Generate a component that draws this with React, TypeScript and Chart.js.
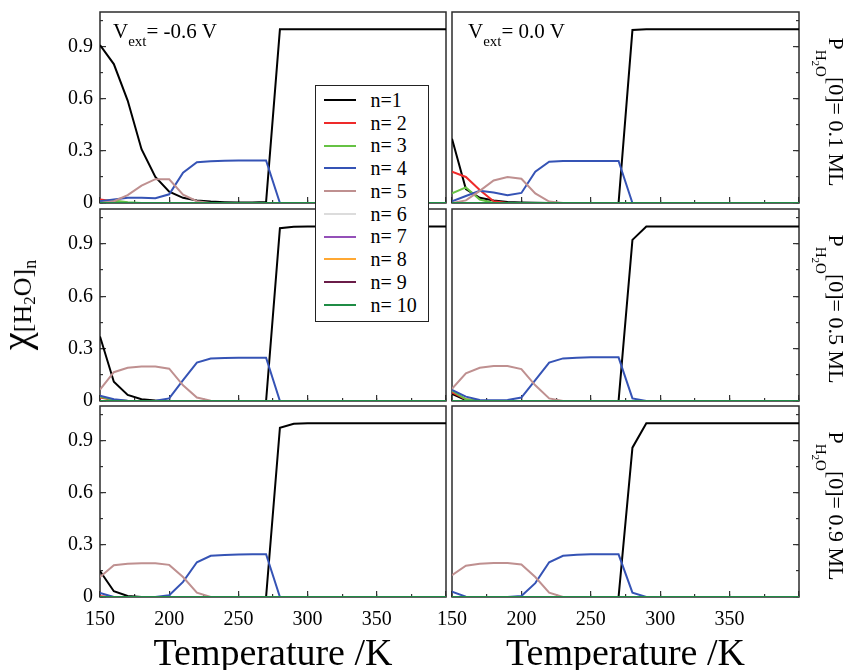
import React, { useEffect, useRef } from 'react';
import { Chart, registerables } from 'chart.js';

Chart.register(...registerables);

const W = 847;
const H = 670;
const FONT = '"Liberation Serif", "Times New Roman", "DejaVu Serif", serif';

// ---------- data ----------
const TEMPERATURES = [150, 160, 170, 180, 190, 200, 210, 220, 230, 240, 250, 260, 270, 280, 290, 300, 310, 320, 330, 340, 350, 360, 370, 380, 390, 400];
const SERIES_LABELS = ['n=1', 'n= 2', 'n= 3', 'n= 4', 'n= 5', 'n= 6', 'n= 7', 'n= 8', 'n= 9', 'n= 10'];
const SERIES_COLORS = ['#000000', '#ee2a2a', '#66c244', '#3553b5', '#bf9090', '#dcdcdc', '#9450b8', '#ffa833', '#6a1c48', '#1f8c45'];
const X_TICK_LABELS = [150, 200, 250, 300, 350];
const Y_TICK_LABELS = [0, 0.3, 0.6, 0.9];
const VEXT_LABELS = ['-0.6 V', '0.0 V'];
const PH2O_LABELS = ['0.1 ML', '0.5 ML', '0.9 ML'];

const ZERO = [0, 0, 0, 0, 0, 0, 0, 0, 0, 0, 0, 0, 0, 0, 0, 0, 0, 0, 0, 0, 0, 0, 0, 0, 0, 0];

// Vext = -0.6 V, P = 0.1 ML
const A_N1 = [0.91, 0.8, 0.59, 0.31, 0.15, 0.065, 0.03, 0.015, 0.008, 0.005, 0.003, 0.003, 0.006, 1.0, 1.0, 1.0, 1.0, 1.0, 1.0, 1.0, 1.0, 1.0, 1.0, 1.0, 1.0, 1.0];
const A_N2 = [0.02, 0.01, 0.002, 0, 0, 0, 0, 0, 0, 0, 0, 0, 0, 0, 0, 0, 0, 0, 0, 0, 0, 0, 0, 0, 0, 0];
const A_N3 = [0.01, 0.015, 0.005, 0, 0, 0, 0, 0, 0, 0, 0, 0, 0, 0, 0, 0, 0, 0, 0, 0, 0, 0, 0, 0, 0, 0];
const A_N4 = [0.01, 0.02, 0.03, 0.03, 0.028, 0.05, 0.175, 0.235, 0.24, 0.243, 0.245, 0.245, 0.245, 0, 0, 0, 0, 0, 0, 0, 0, 0, 0, 0, 0, 0];
const A_N5 = [0, 0.01, 0.045, 0.1, 0.137, 0.137, 0.048, 0.01, 0, 0, 0, 0, 0, 0, 0, 0, 0, 0, 0, 0, 0, 0, 0, 0, 0, 0];

// Vext = 0.0 V, P = 0.1 ML
const B_N1 = [0.37, 0.08, 0.03, 0.015, 0.006, 0.003, 0.001, 0, 0, 0, 0, 0, 0, 0.996, 1.0, 1.0, 1.0, 1.0, 1.0, 1.0, 1.0, 1.0, 1.0, 1.0, 1.0, 1.0];
const B_N2 = [0.18, 0.15, 0.075, 0.01, 0, 0, 0, 0, 0, 0, 0, 0, 0, 0, 0, 0, 0, 0, 0, 0, 0, 0, 0, 0, 0, 0];
const B_N3 = [0.055, 0.09, 0.02, 0, 0, 0, 0, 0, 0, 0, 0, 0, 0, 0, 0, 0, 0, 0, 0, 0, 0, 0, 0, 0, 0, 0];
const B_N4 = [0.01, 0.04, 0.07, 0.06, 0.045, 0.058, 0.18, 0.238, 0.242, 0.242, 0.242, 0.242, 0.242, 0, 0, 0, 0, 0, 0, 0, 0, 0, 0, 0, 0, 0];
const B_N5 = [0, 0.015, 0.07, 0.13, 0.15, 0.14, 0.055, 0.008, 0, 0, 0, 0, 0, 0, 0, 0, 0, 0, 0, 0, 0, 0, 0, 0, 0, 0];

// Vext = -0.6 V, P = 0.5 ML
const C_N1 = [0.37, 0.11, 0.035, 0.01, 0.003, 0, 0, 0, 0, 0, 0, 0, 0, 0.99, 0.998, 1.0, 1.0, 1.0, 1.0, 1.0, 1.0, 1.0, 1.0, 1.0, 1.0, 1.0];
const C_N2 = [0.02, 0.005, 0, 0, 0, 0, 0, 0, 0, 0, 0, 0, 0, 0, 0, 0, 0, 0, 0, 0, 0, 0, 0, 0, 0, 0];
const C_N3 = [0.025, 0.005, 0, 0, 0, 0, 0, 0, 0, 0, 0, 0, 0, 0, 0, 0, 0, 0, 0, 0, 0, 0, 0, 0, 0, 0];
const C_N4 = [0.03, 0.01, 0.002, 0, 0.001, 0.015, 0.12, 0.22, 0.243, 0.247, 0.248, 0.248, 0.248, 0, 0, 0, 0, 0, 0, 0, 0, 0, 0, 0, 0, 0];
const C_N5 = [0.065, 0.165, 0.19, 0.198, 0.198, 0.185, 0.09, 0.02, 0.002, 0, 0, 0, 0, 0, 0, 0, 0, 0, 0, 0, 0, 0, 0, 0, 0, 0];

// Vext = 0.0 V, P = 0.5 ML
const D_N1 = [0.04, 0.005, 0, 0, 0, 0, 0, 0, 0, 0, 0, 0, 0, 0.923, 1.0, 1.0, 1.0, 1.0, 1.0, 1.0, 1.0, 1.0, 1.0, 1.0, 1.0, 1.0];
const D_N2 = [0.05, 0.01, 0, 0, 0, 0, 0, 0, 0, 0, 0, 0, 0, 0, 0, 0, 0, 0, 0, 0, 0, 0, 0, 0, 0, 0];
const D_N3 = [0.06, 0.01, 0, 0, 0, 0, 0, 0, 0, 0, 0, 0, 0, 0, 0, 0, 0, 0, 0, 0, 0, 0, 0, 0, 0, 0];
const D_N4 = [0.063, 0.025, 0.006, 0.005, 0.006, 0.02, 0.12, 0.22, 0.244, 0.248, 0.25, 0.25, 0.25, 0.015, 0, 0, 0, 0, 0, 0, 0, 0, 0, 0, 0, 0];
const D_N5 = [0.07, 0.158, 0.19, 0.2, 0.2, 0.183, 0.09, 0.015, 0, 0, 0, 0, 0, 0, 0, 0, 0, 0, 0, 0, 0, 0, 0, 0, 0, 0];

// Vext = -0.6 V, P = 0.9 ML
const E_N1 = [0.15, 0.033, 0.006, 0, 0, 0, 0, 0, 0, 0, 0, 0, 0, 0.975, 0.998, 1.0, 1.0, 1.0, 1.0, 1.0, 1.0, 1.0, 1.0, 1.0, 1.0, 1.0];
const E_N2 = [0.005, 0, 0, 0, 0, 0, 0, 0, 0, 0, 0, 0, 0, 0, 0, 0, 0, 0, 0, 0, 0, 0, 0, 0, 0, 0];
const E_N4 = [0.023, 0, 0, 0, 0, 0.01, 0.087, 0.2, 0.237, 0.242, 0.245, 0.246, 0.246, 0, 0, 0, 0, 0, 0, 0, 0, 0, 0, 0, 0, 0];
const E_N5 = [0.115, 0.183, 0.192, 0.194, 0.194, 0.185, 0.115, 0.025, 0, 0, 0, 0, 0, 0, 0, 0, 0, 0, 0, 0, 0, 0, 0, 0, 0, 0];

// Vext = 0.0 V, P = 0.9 ML
const F_N1 = [0, 0, 0, 0, 0, 0, 0, 0, 0, 0, 0, 0, 0, 0.86, 1.0, 1.0, 1.0, 1.0, 1.0, 1.0, 1.0, 1.0, 1.0, 1.0, 1.0, 1.0];
const F_N4 = [0.03, 0.002, 0, 0, 0, 0.006, 0.08, 0.2, 0.237, 0.244, 0.246, 0.246, 0.246, 0.025, 0, 0, 0, 0, 0, 0, 0, 0, 0, 0, 0, 0];
const F_N5 = [0.125, 0.18, 0.192, 0.196, 0.196, 0.187, 0.115, 0.025, 0, 0, 0, 0, 0, 0, 0, 0, 0, 0, 0, 0, 0, 0, 0, 0, 0, 0];

// ---------- layout ----------
const COLS = [
  { left: 100, right: 446 },
  { left: 452, right: 799 },
];
const ROWS = [
  { top: 12, bottom: 203 },
  { top: 209, bottom: 401 },
  { top: 406, bottom: 597 },
];
const Y_LABEL_BOX = 90; // width reserved for y tick labels (left column)
const X_LABEL_BOX = 40; // height reserved for x tick labels

type PanelDef = { row: number; col: number; series: number[][] };

const PANELS: PanelDef[] = [
  { row: 0, col: 0, series: [A_N1, A_N2, A_N3, A_N4, A_N5, ZERO, ZERO, ZERO, ZERO, ZERO] },
  { row: 0, col: 1, series: [B_N1, B_N2, B_N3, B_N4, B_N5, ZERO, ZERO, ZERO, ZERO, ZERO] },
  { row: 1, col: 0, series: [C_N1, C_N2, C_N3, C_N4, C_N5, ZERO, ZERO, ZERO, ZERO, ZERO] },
  { row: 1, col: 1, series: [D_N1, D_N2, D_N3, D_N4, D_N5, ZERO, ZERO, ZERO, ZERO, ZERO] },
  { row: 2, col: 0, series: [E_N1, E_N2, ZERO, E_N4, E_N5, ZERO, ZERO, ZERO, ZERO, ZERO] },
  { row: 2, col: 1, series: [F_N1, ZERO, ZERO, F_N4, F_N5, ZERO, ZERO, ZERO, ZERO, ZERO] },
];

const TICK_COLOR = '#333333';
const FRAME_COLOR = '#2c2c2c';

function fitTo(size: number) {
  return (scale: any) => {
    if (scale.isHorizontal()) scale.height = size;
    else scale.width = size;
    scale.paddingLeft = 0;
    scale.paddingRight = 0;
    scale.paddingTop = 0;
    scale.paddingBottom = 0;
  };
}

const framePlugin = {
  id: 'panelFrame',
  beforeDatasetsDraw(chart: any) {
    const { ctx, chartArea: a } = chart;
    ctx.save();
    ctx.strokeStyle = FRAME_COLOR;
    ctx.lineWidth = 1.5;
    ctx.strokeRect(a.left, a.top, a.right - a.left, a.bottom - a.top);
    ctx.restore();
  },
};

function buildConfig(p: PanelDef): any {
  const col = COLS[p.col];
  const row = ROWS[p.row];
  const showX = p.row === 2;
  const showY = p.col === 0;
  const ySide = p.col === 0 ? 'left' : 'right';
  const yBox = showY ? Y_LABEL_BOX : 0;
  const xBox = showX ? X_LABEL_BOX : 0;
  const tickFont = { family: FONT, size: 20 };

  const datasets = p.series.map((vals, i) => ({
    label: SERIES_LABELS[i],
    data: TEMPERATURES.map((t, j) => ({ x: t, y: vals[j] })),
    borderColor: SERIES_COLORS[i],
    backgroundColor: SERIES_COLORS[i],
    borderWidth: 2,
    pointRadius: 0,
    tension: 0,
    fill: false,
    order: SERIES_LABELS.length - 1 - i,
    xAxisID: 'x',
    yAxisID: 'y',
  }));

  const xBase = { type: 'linear', axis: 'x', position: 'bottom', min: 150, max: 400, border: { display: false } };
  const yBase = { type: 'linear', axis: 'y', position: ySide, min: 0, max: 1.1, border: { display: false } };

  return {
    type: 'line',
    data: { datasets },
    plugins: [framePlugin],
    options: {
      animation: false,
      responsive: false,
      maintainAspectRatio: false,
      events: [],
      layout: {
        padding: {
          left: p.col === 0 ? col.left - yBox : col.left,
          right: W - col.right,
          top: row.top,
          bottom: H - row.bottom - xBox,
        },
      },
      plugins: { legend: { display: false }, tooltip: { enabled: false }, title: { display: false } },
      scales: {
        x: {
          ...xBase,
          weight: 1,
          afterFit: fitTo(xBox),
          grid: { drawOnChartArea: false, drawTicks: true, tickLength: -6, color: TICK_COLOR, lineWidth: 1.2 },
          ticks: {
            stepSize: 50,
            autoSkip: false,
            maxRotation: 0,
            minRotation: 0,
            padding: 17,
            color: '#000',
            font: tickFont,
            callback: (v: number) => (showX && X_TICK_LABELS.includes(v) ? String(v) : ''),
          },
        },
        xMinor: {
          ...xBase,
          weight: 0,
          afterFit: fitTo(0),
          grid: { drawOnChartArea: false, drawTicks: true, tickLength: -3, color: TICK_COLOR, lineWidth: 1.2 },
          ticks: { stepSize: 25, autoSkip: false, maxRotation: 0, minRotation: 0, callback: () => '' },
        },
        y: {
          ...yBase,
          weight: 1,
          afterFit: fitTo(yBox),
          grid: { drawOnChartArea: false, drawTicks: true, tickLength: -6, color: TICK_COLOR, lineWidth: 1.2 },
          ticks: {
            stepSize: 0.3,
            includeBounds: false,
            autoSkip: false,
            padding: 13,
            color: '#000',
            font: tickFont,
            callback: (v: number) => {
              if (!showY) return '';
              const hit = Y_TICK_LABELS.find((t) => Math.abs(t - v) < 1e-6);
              if (hit === undefined) return '';
              return hit === 0 ? '0' : hit.toFixed(1);
            },
          },
        },
        yMinor: {
          ...yBase,
          weight: 0,
          afterFit: fitTo(0),
          grid: { drawOnChartArea: false, drawTicks: true, tickLength: -3, color: TICK_COLOR, lineWidth: 1.2 },
          ticks: { stepSize: 0.15, includeBounds: false, autoSkip: false, callback: () => '' },
        },
      },
    },
  };
}

function PanelChart({ panel }: { panel: PanelDef }) {
  const ref = useRef<HTMLCanvasElement>(null);
  useEffect(() => {
    const chart = new Chart(ref.current as HTMLCanvasElement, buildConfig(panel));
    return () => chart.destroy();
  }, [panel]);
  return (
    <canvas
      ref={ref}
      width={W}
      height={H}
      style={{ position: 'absolute', left: 0, top: 0, width: W, height: H, pointerEvents: 'none' }}
    />
  );
}

function VextLabel({ x, text }: { x: number; text: string }) {
  return (
    <div
      style={{
        position: 'absolute',
        left: x,
        top: 21,
        fontFamily: FONT,
        fontSize: 21,
        lineHeight: '21px',
        whiteSpace: 'nowrap',
        color: '#000',
      }}
    >
      V<span style={{ fontSize: 15, position: 'relative', top: 8 }}>ext</span>= {text}
    </div>
  );
}

function PressureLabel({ cy, text }: { cy: number; text: string }) {
  return (
    <div
      style={{
        position: 'absolute',
        left: 834,
        top: cy,
        transform: 'translate(-50%, -50%) rotate(90deg)',
        fontFamily: FONT,
        fontSize: 22,
        lineHeight: '26px',
        whiteSpace: 'nowrap',
        color: '#000',
      }}
    >
      P
      <span style={{ fontSize: 15, position: 'relative', top: 13 }}>
        H<span style={{ fontSize: 11, position: 'relative', top: 4 }}>2</span>O
      </span>
      [0]= {text}
    </div>
  );
}

function TemperatureTitle({ cx }: { cx: number }) {
  return (
    <div
      style={{
        position: 'absolute',
        left: cx,
        top: 634,
        transform: 'translateX(-50%)',
        fontFamily: FONT,
        fontSize: 38,
        lineHeight: '36px',
        whiteSpace: 'nowrap',
        color: '#000',
      }}
    >
      Temperature /K
    </div>
  );
}

function YTitle() {
  return (
    <div
      style={{
        position: 'absolute',
        left: 20,
        top: 305,
        transform: 'translate(-50%, -50%) rotate(-90deg)',
        fontFamily: FONT,
        fontSize: 40,
        lineHeight: '40px',
        whiteSpace: 'nowrap',
        color: '#000',
      }}
    >
      χ
      <span style={{ fontSize: 26, position: 'relative', top: 2 }}>
        [H<span style={{ fontSize: 17, position: 'relative', top: 4 }}>2</span>O]
        <span style={{ fontSize: 18, position: 'relative', top: 5 }}>n</span>
      </span>
    </div>
  );
}

function Legend() {
  const rowY0 = 100.7;
  const dy = 22.75;
  return (
    <div
      style={{
        position: 'absolute',
        left: 315,
        top: 85,
        width: 114,
        height: 237,
        boxSizing: 'border-box',
        border: '1.5px solid #222',
        background: '#fff',
      }}
    >
      {SERIES_LABELS.map((label, i) => {
        const y = rowY0 + i * dy - 85;
        return (
          <React.Fragment key={label}>
            <div
              style={{
                position: 'absolute',
                left: 8,
                top: y - 1 - 1.5,
                width: 32,
                height: 2,
                background: SERIES_COLORS[i],
              }}
            />
            <div
              style={{
                position: 'absolute',
                left: 56 - 1.5,
                top: y - 10.3 - 1.5,
                fontFamily: FONT,
                fontSize: 20,
                lineHeight: '20px',
                whiteSpace: 'pre',
                color: '#000',
              }}
            >
              {label}
            </div>
          </React.Fragment>
        );
      })}
    </div>
  );
}

export default function App() {
  return (
    <div style={{ position: 'absolute', left: 0, top: 0, width: W, height: H, background: '#fff', overflow: 'hidden' }}>
      {PANELS.map((p, i) => (
        <PanelChart key={i} panel={p} />
      ))}
      <VextLabel x={113} text={VEXT_LABELS[0]} />
      <VextLabel x={468} text={VEXT_LABELS[1]} />
      {PH2O_LABELS.map((t, i) => (
        <PressureLabel key={t} cy={(ROWS[i].top + ROWS[i].bottom) / 2 + 4} text={t} />
      ))}
      <TemperatureTitle cx={(COLS[0].left + COLS[0].right) / 2} />
      <TemperatureTitle cx={(COLS[1].left + COLS[1].right) / 2} />
      <YTitle />
      <Legend />
    </div>
  );
}
